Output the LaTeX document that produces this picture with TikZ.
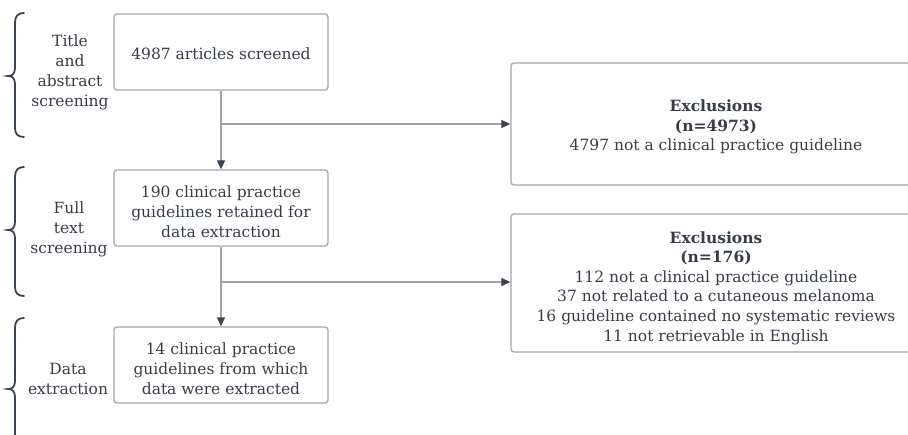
\documentclass[tikz,border=0pt]{standalone}
\usepackage{fontspec}
\setmainfont{DejaVu Serif}
\usetikzlibrary{arrows.meta,calc}
\definecolor{boxline}{HTML}{A3A7AC}
\definecolor{conn}{HTML}{9EA3A8}
\definecolor{tipc}{HTML}{3B4550}
\definecolor{txt}{HTML}{363E48}
\definecolor{bracec}{HTML}{3A4350}
\begin{document}
\begin{tikzpicture}[x=1pt,y=-1pt,
  every node/.style={text=txt},
  boxframe/.style={draw=boxline,line width=1.3pt,rounded corners=3pt,inner sep=0pt},
  mainbox/.style={boxframe,minimum width=214pt,minimum height=76pt},
  exbox/.style={boxframe,minimum width=410pt},
  lbl/.style={align=center,inner sep=0pt,font=\fontsize{15.5}{19.8}\selectfont,text=txt},
  phase/.style={align=center,font=\fontsize{15.5}{20}\selectfont,inner sep=0pt},
  conline/.style={draw=conn,line width=1.2pt},
  arr/.style={conline,-{Triangle[length=9pt,width=8pt,fill=tipc,color=tipc]}},
  bracepath/.style={draw=bracec,line width=1.8pt,line cap=round}
]
\clip (0,0) rectangle (908,434);
\fill[white] (0,0) rectangle (908,434);

% main boxes
\node[mainbox,label={[lbl,yshift=-2pt]center:4987 articles screened}] (b1) at (221,52) {};
\node[mainbox,label={[lbl,yshift=-4pt]center:{190 clinical practice\\guidelines retained for\\data extraction}}] (b2) at (221,208) {};
\node[mainbox,label={[lbl,yshift=-4pt]center:{14 clinical practice\\guidelines from which\\data were extracted}}] (b3) at (221,365) {};

% exclusion boxes
\node[exbox,minimum height=122pt,label={[lbl,yshift=-3pt]center:{\textbf{Exclusions}\\\textbf{(n=4973)}\\4797 not a clinical practice guideline}}] (e1) at (716,124) {};
\node[exbox,minimum height=138pt,label={[lbl,yshift=-5pt,font=\fontsize{15.5}{19.6}\selectfont]center:{\textbf{Exclusions}\\\textbf{(n=176)}\\112 not a clinical practice guideline\\37 not related to a cutaneous melanoma\\16 guideline contained no systematic reviews\\11 not retrievable in English}}] (e2) at (716,283) {};

% connectors
\coordinate (j1) at (221,124);
\coordinate (j2) at (221,282);
\draw[arr] (b1) -- (b2);
\draw[arr] (j1) -- (j1 -| e1.west);
\draw[arr] (b2) -- (b3);
\draw[arr] (j2) -- (j2 -| e2.west);

% phase labels
\node[phase] (p1) at (70,72) {Title\\and\\abstract\\screening};
\node[phase] (p2) at (69,229) {Full\\text\\screening};
\node[phase] (p3) at (68,379) {Data\\extraction};

% braces
\draw[bracepath] (24,13) .. controls (18,13) and (15,16) .. (15,23) -- (15,68) .. controls (15,74) and (12,76) .. (8,76) .. controls (12,76) and (15,78) .. (15,84) -- (15,128) .. controls (15,134) and (18,137) .. (24,137);
\draw[bracepath] (24,167) .. controls (18,167) and (15,170) .. (15,177) -- (15,222) .. controls (15,228) and (12,230) .. (8,230) .. controls (12,230) and (15,232) .. (15,238) -- (15,287) .. controls (15,293) and (18,296) .. (24,296);
\draw[bracepath] (24,318) .. controls (18,318) and (15,321) .. (15,328) -- (15,381) .. controls (15,387) and (12,389) .. (8,389) .. controls (12,389) and (15,391) .. (15,397) -- (15,450) .. controls (15,456) and (18,459) .. (24,459);
\end{tikzpicture}
\end{document}
